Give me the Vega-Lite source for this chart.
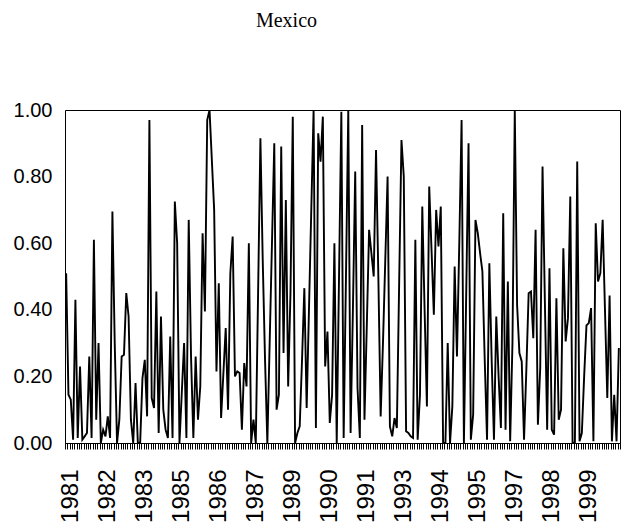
{
  "$schema": "https://vega.github.io/schema/vega-lite/v6.json",
  "width": 555,
  "height": 333,
  "autosize": {"type": "none"},
  "padding": {"left": 65, "top": 110, "right": 3, "bottom": 84},
  "background": "white",
  "title": {"text": "Mexico", "font": "Liberation Serif", "fontSize": 20, "fontWeight": "normal", "color": "black", "anchor": "middle", "dx": -56, "offset": 69},
  "config": {"view": {"stroke": "black", "strokeWidth": 1}},
  "data": {"values": [
    {"m":0,"v":0.51},{"m":1,"v":0.145},{"m":2,"v":0.13},{"m":3,"v":0.01},{"m":4,"v":0.43},{"m":5,"v":0.015},{"m":6,"v":0.23},{"m":7,"v":0.01},{"m":8,"v":0.02},{"m":9,"v":0.03},
    {"m":10,"v":0.26},{"m":11,"v":0.015},{"m":12,"v":0.61},{"m":13,"v":0.07},{"m":14,"v":0.30},{"m":15,"v":0.0},{"m":16,"v":0.04},{"m":17,"v":0.02},{"m":18,"v":0.08},{"m":19,"v":0.015},
    {"m":20,"v":0.695},{"m":21,"v":0.3},{"m":22,"v":0.0},{"m":23,"v":0.07},{"m":24,"v":0.26},{"m":25,"v":0.265},{"m":26,"v":0.45},{"m":27,"v":0.38},{"m":28,"v":0.07},{"m":29,"v":0.0},
    {"m":30,"v":0.18},{"m":31,"v":0.0},{"m":32,"v":0.0},{"m":33,"v":0.195},{"m":34,"v":0.25},{"m":35,"v":0.08},{"m":36,"v":0.97},{"m":37,"v":0.135},{"m":38,"v":0.105},{"m":39,"v":0.455},
    {"m":40,"v":0.03},{"m":41,"v":0.38},{"m":42,"v":0.10},{"m":43,"v":0.04},{"m":44,"v":0.015},{"m":45,"v":0.32},{"m":46,"v":0.015},{"m":47,"v":0.725},{"m":48,"v":0.60},{"m":49,"v":0.0},
    {"m":50,"v":0.15},{"m":51,"v":0.30},{"m":52,"v":0.015},{"m":53,"v":0.67},{"m":54,"v":0.26},{"m":55,"v":0.015},{"m":56,"v":0.26},{"m":57,"v":0.07},{"m":58,"v":0.17},{"m":59,"v":0.63},
    {"m":60,"v":0.395},{"m":61,"v":0.97},{"m":62,"v":1.0},{"m":63,"v":0.85},{"m":64,"v":0.70},{"m":65,"v":0.215},{"m":66,"v":0.48},{"m":67,"v":0.075},{"m":68,"v":0.21},{"m":69,"v":0.345},
    {"m":70,"v":0.10},{"m":71,"v":0.51},{"m":72,"v":0.62},{"m":73,"v":0.20},{"m":74,"v":0.215},{"m":75,"v":0.21},{"m":76,"v":0.04},{"m":77,"v":0.24},{"m":78,"v":0.17},{"m":79,"v":0.60},
    {"m":80,"v":0.0},{"m":81,"v":0.07},{"m":82,"v":0.0},{"m":83,"v":0.45},{"m":84,"v":0.915},{"m":85,"v":0.55},{"m":86,"v":0.25},{"m":87,"v":0.0},{"m":88,"v":0.30},{"m":89,"v":0.60},
    {"m":90,"v":0.90},{"m":91,"v":0.10},{"m":92,"v":0.145},{"m":93,"v":0.89},{"m":94,"v":0.27},{"m":95,"v":0.73},{"m":96,"v":0.17},{"m":97,"v":0.45},{"m":98,"v":0.98},{"m":99,"v":0.0},
    {"m":100,"v":0.03},{"m":101,"v":0.05},{"m":102,"v":0.25},{"m":103,"v":0.465},{"m":104,"v":0.105},{"m":105,"v":0.40},{"m":106,"v":0.70},{"m":107,"v":1.0},{"m":108,"v":0.045},{"m":109,"v":0.93},
    {"m":110,"v":0.845},{"m":111,"v":0.98},{"m":112,"v":0.23},{"m":113,"v":0.335},{"m":114,"v":0.06},{"m":115,"v":0.145},{"m":116,"v":0.60},{"m":117,"v":0.0},{"m":118,"v":0.5},{"m":119,"v":0.995},
    {"m":120,"v":0.015},{"m":121,"v":0.5},{"m":122,"v":1.0},{"m":123,"v":0.03},{"m":124,"v":0.4},{"m":125,"v":0.815},{"m":126,"v":0.165},{"m":127,"v":0.015},{"m":128,"v":0.955},{"m":129,"v":0.07},
    {"m":130,"v":0.35},{"m":131,"v":0.64},{"m":132,"v":0.57},{"m":133,"v":0.50},{"m":134,"v":0.88},{"m":135,"v":0.50},{"m":136,"v":0.08},{"m":137,"v":0.3},{"m":138,"v":0.55},{"m":139,"v":0.80},
    {"m":140,"v":0.05},{"m":141,"v":0.02},{"m":142,"v":0.075},{"m":143,"v":0.045},{"m":144,"v":0.48},{"m":145,"v":0.91},{"m":146,"v":0.80},{"m":147,"v":0.035},{"m":148,"v":0.03},{"m":149,"v":0.02},
    {"m":150,"v":0.015},{"m":151,"v":0.61},{"m":152,"v":0.01},{"m":153,"v":0.145},{"m":154,"v":0.71},{"m":155,"v":0.4},{"m":156,"v":0.11},{"m":157,"v":0.77},{"m":158,"v":0.58},{"m":159,"v":0.385},
    {"m":160,"v":0.70},{"m":161,"v":0.59},{"m":162,"v":0.71},{"m":163,"v":0.0},{"m":164,"v":0.0},{"m":165,"v":0.30},{"m":166,"v":0.0},{"m":167,"v":0.11},{"m":168,"v":0.53},{"m":169,"v":0.26},
    {"m":170,"v":0.6},{"m":171,"v":0.97},{"m":172,"v":0.0},{"m":173,"v":0.45},{"m":174,"v":0.90},{"m":175,"v":0.01},{"m":176,"v":0.085},{"m":177,"v":0.67},{"m":178,"v":0.63},{"m":179,"v":0.57},
    {"m":180,"v":0.515},{"m":181,"v":0.25},{"m":182,"v":0.01},{"m":183,"v":0.54},{"m":184,"v":0.25},{"m":185,"v":0.01},{"m":186,"v":0.38},{"m":187,"v":0.2},{"m":188,"v":0.045},{"m":189,"v":0.69},
    {"m":190,"v":0.04},{"m":191,"v":0.485},{"m":192,"v":0.005},{"m":193,"v":0.3},{"m":194,"v":1.0},{"m":195,"v":0.415},{"m":196,"v":0.27},{"m":197,"v":0.245},{"m":198,"v":0.01},{"m":199,"v":0.22},
    {"m":200,"v":0.45},{"m":201,"v":0.455},{"m":202,"v":0.315},{"m":203,"v":0.64},{"m":204,"v":0.055},{"m":205,"v":0.225},{"m":206,"v":0.83},{"m":207,"v":0.43},{"m":208,"v":0.04},{"m":209,"v":0.525},
    {"m":210,"v":0.04},{"m":211,"v":0.025},{"m":212,"v":0.435},{"m":213,"v":0.07},{"m":214,"v":0.10},{"m":215,"v":0.585},{"m":216,"v":0.305},{"m":217,"v":0.375},{"m":218,"v":0.74},{"m":219,"v":0.0},
    {"m":220,"v":0.0},{"m":221,"v":0.845},{"m":222,"v":0.005},{"m":223,"v":0.03},{"m":224,"v":0.2},{"m":225,"v":0.353},{"m":226,"v":0.36},{"m":227,"v":0.405},{"m":228,"v":0.005},{"m":229,"v":0.66},
    {"m":230,"v":0.485},{"m":231,"v":0.51},{"m":232,"v":0.67},{"m":233,"v":0.40},{"m":234,"v":0.135},{"m":235,"v":0.443},{"m":236,"v":0.005},{"m":237,"v":0.145},{"m":238,"v":0.005},{"m":239,"v":0.285}
  ]},
  "mark": {"type": "line", "color": "black", "strokeWidth": 1.9, "clip": true},
  "encoding": {
    "x": {
      "field": "m", "type": "quantitative",
      "scale": {"domain": [-0.5, 239.5], "nice": false, "zero": false},
      "axis": {
        "values": [-0.5,0.5,1.5,2.5,3.5,4.5,5.5,6.5,7.5,8.5,9.5,10.5,11.5,12.5,13.5,14.5,15.5,16.5,17.5,18.5,19.5,20.5,21.5,22.5,23.5,24.5,25.5,26.5,27.5,28.5,29.5,30.5,31.5,32.5,33.5,34.5,35.5,36.5,37.5,38.5,39.5,40.5,41.5,42.5,43.5,44.5,45.5,46.5,47.5,48.5,49.5,50.5,51.5,52.5,53.5,54.5,55.5,56.5,57.5,58.5,59.5,60.5,61.5,62.5,63.5,64.5,65.5,66.5,67.5,68.5,69.5,70.5,71.5,72.5,73.5,74.5,75.5,76.5,77.5,78.5,79.5,80.5,81.5,82.5,83.5,84.5,85.5,86.5,87.5,88.5,89.5,90.5,91.5,92.5,93.5,94.5,95.5,96.5,97.5,98.5,99.5,100.5,101.5,102.5,103.5,104.5,105.5,106.5,107.5,108.5,109.5,110.5,111.5,112.5,113.5,114.5,115.5,116.5,117.5,118.5,119.5,120.5,121.5,122.5,123.5,124.5,125.5,126.5,127.5,128.5,129.5,130.5,131.5,132.5,133.5,134.5,135.5,136.5,137.5,138.5,139.5,140.5,141.5,142.5,143.5,144.5,145.5,146.5,147.5,148.5,149.5,150.5,151.5,152.5,153.5,154.5,155.5,156.5,157.5,158.5,159.5,160.5,161.5,162.5,163.5,164.5,165.5,166.5,167.5,168.5,169.5,170.5,171.5,172.5,173.5,174.5,175.5,176.5,177.5,178.5,179.5,180.5,181.5,182.5,183.5,184.5,185.5,186.5,187.5,188.5,189.5,190.5,191.5,192.5,193.5,194.5,195.5,196.5,197.5,198.5,199.5,200.5,201.5,202.5,203.5,204.5,205.5,206.5,207.5,208.5,209.5,210.5,211.5,212.5,213.5,214.5,215.5,216.5,217.5,218.5,219.5,220.5,221.5,222.5,223.5,224.5,225.5,226.5,227.5,228.5,229.5,230.5,231.5,232.5,233.5,234.5,235.5,236.5,237.5,238.5,239.5],
        "labelExpr": "((datum.value + 0.5) % 16 == 0 && datum.value < 230) ? '' + (1981 + floor((datum.value + 0.5) / 12)) : ''",
        "labelOverlap": false,
        "labelAngle": -90,
        "labelFont": "Liberation Sans",
        "labelFontSize": 24,
        "labelColor": "black",
        "labelPadding": 20,
        "labelOffset": 5,
        "labelBound": false,
        "labelFlush": false,
        "ticks": true,
        "tickSize": 6,
        "tickColor": "black",
        "tickWidth": 1,
        "domainColor": "black",
        "domainWidth": 1,
        "grid": false,
        "title": null
      }
    },
    "y": {
      "field": "v", "type": "quantitative",
      "scale": {"domain": [0, 1], "nice": false},
      "axis": {
        "values": [0, 0.2, 0.4, 0.6, 0.8, 1],
        "format": ".2f",
        "ticks": false,
        "domain": false,
        "grid": false,
        "title": null,
        "labelFont": "Liberation Sans",
        "labelFontSize": 20,
        "labelColor": "black",
        "labelPadding": 13,
        "labelFlush": false
      }
    }
  }
}
